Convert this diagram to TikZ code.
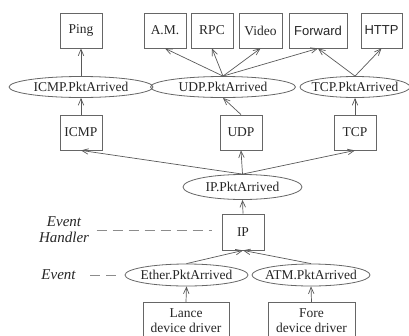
\documentclass[tikz,border=0pt]{standalone}
\usepackage{fontspec}
\setmainfont{Liberation Serif}
\newfontfamily\sansf{Liberation Sans}
\usetikzlibrary{shapes.geometric,arrows.meta,calc}
\begin{document}
\begin{tikzpicture}[x=1pt,y=-1pt,
  every node/.style={font=\fontsize{13.5}{14.5}\selectfont, text=black!85},
  box/.style={draw=black!60, line width=0.8pt, minimum height=35pt, minimum width=42pt, inner sep=0pt},
  evt/.style={ellipse, draw=black!60, line width=0.8pt, minimum height=21pt, inner ysep=0pt, inner xsep=-8pt},
  sbox/.style={box, font=\sansf\fontsize{13}{15}\selectfont},
  arr/.style={draw=black!65, line width=0.7pt, -{Straight Barb[length=6.5pt,width=5.5pt]}},
  lab/.style={font=\fontsize{15}{16}\selectfont\itshape, align=center},
  dsh/.style={draw=black!45, line width=0.9pt, dash pattern=on 10pt off 6pt}]
\useasboundingbox (0,0) rectangle (409,335);
\clip (0,0) rectangle (409,335);
% top row
\node[box] (ping) at (81,30.5) {Ping};
\node[box] (am) at (165,30.5) {A.M.};
\node[box] (rpc) at (212,30.5) {RPC};
\node[box, minimum width=43pt] (video) at (260.5,30.5) {Video};
\node[sbox, minimum width=58pt] (fwd) at (318,30.5) {Forward};
\node[sbox, minimum width=41pt] (http) at (381.5,30.5) {HTTP};
% event row
\node[evt, minimum width=144pt] (icmpE) at (81,87) {ICMP.PktArrived};
\node[evt, minimum width=145pt] (udpE) at (223,87) {UDP.PktArrived};
\node[evt, minimum width=110pt] (tcpE) at (355,87) {TCP.PktArrived};
% protocol row
\node[box] (icmp) at (81,132.5) {ICMP};
\node[box] (udp) at (241,132.5) {UDP};
\node[box] (tcp) at (355,132.5) {TCP};
\node[evt, minimum width=119pt, minimum height=25pt] (ipE) at (242.5,187) {IP.PktArrived};
\node[box, minimum height=36pt] (ip) at (243,232) {IP};
\node[evt, minimum width=123pt, minimum height=22pt] (etherE) at (186.5,275) {Ether.PktArrived};
\node[evt, minimum width=118pt, minimum height=22pt] (atmE) at (311,275) {ATM.PktArrived};
\node[box, minimum width=86pt, minimum height=36pt, anchor=north, align=center] (lance) at (186,302) {Lance\\device driver};
\node[box, minimum width=87pt, minimum height=36pt, anchor=north, align=center] (fore) at (311.5,302) {Fore\\device driver};
% labels
\node[lab] (handler) at (64,230) {Event\\Handler};
\node[lab] (event) at (58.5,275) {Event};
\draw[dsh, shorten <=4pt, shorten >=10pt] (handler.east) -- (handler.east -| ip.west);
\draw[dsh, shorten <=11pt, shorten >=8pt] (event.east) -- (event.east -| etherE.west);
% arrows
\draw[arr] (icmpE.north) -- (ping.south);
\draw[arr] (icmp.north) -- (icmpE.south);
\foreach \t in {am,rpc,video,fwd} \draw[arr] (udpE.north) -- (\t.south);
\draw[arr] (tcpE.north) -- (fwd.south);
\draw[arr] (tcpE.north) -- (http.south);
\draw[arr] (udp.north) -- (udpE.south);
\draw[arr] (tcp.north) -- (tcpE.south);
\foreach \t in {icmp,udp,tcp} \draw[arr] (ipE.north) -- (\t.south);
\draw[arr] (ip.north) -- (ipE.south);
\draw[arr] (etherE.north) -- (ip.south);
\draw[arr] (atmE.north) -- (ip.south);
\draw[arr] (lance.north) -- (etherE.south);
\draw[arr] (fore.north) -- (atmE.south);
\end{tikzpicture}
\end{document}
